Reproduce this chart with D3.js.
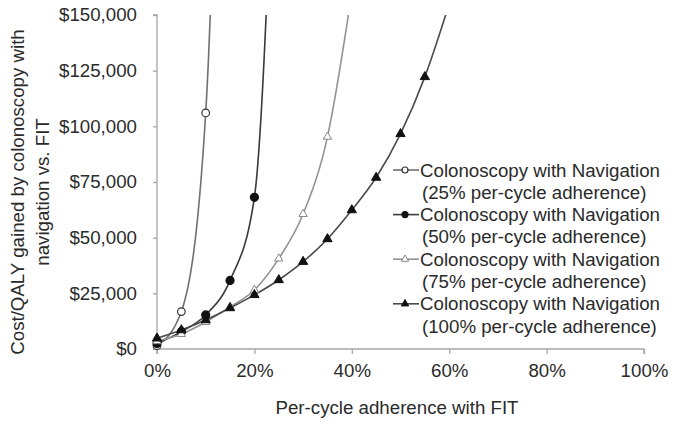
<!DOCTYPE html>
<html>
<head>
<meta charset="utf-8">
<script src="https://cdn.jsdelivr.net/npm/d3@7"></script>
<style>
  html, body { margin: 0; padding: 0; background: #fff; }
  svg { display: block; font-family: "Liberation Sans", Arial, sans-serif; }
</style>
</head>
<body>
<svg id="chart" width="675" height="424"></svg>
<script>
// ---- data ----
const adherence = [0, 0.05, 0.10, 0.15, 0.20, 0.25, 0.30, 0.35, 0.40, 0.45, 0.50, 0.55, 0.60];
const nav25  = [1500, 16800, 106000, 500000];
const nav50  = [2500, 7800, 15300, 30800, 68100, 300000];
const nav75  = [3500, 6700, 12100, 18900, 26500, 40600, 60600, 95300, 160000];
const nav100 = [4800, 8500, 13000, 18400, 24300, 31000, 39200, 49400, 62400, 77000, 96600, 122200, 155000];
const seriesNames = [
  ["Colonoscopy with Navigation", "(25% per-cycle adherence)"],
  ["Colonoscopy with Navigation", "(50% per-cycle adherence)"],
  ["Colonoscopy with Navigation", "(75% per-cycle adherence)"],
  ["Colonoscopy with Navigation", "(100% per-cycle adherence)"]
];
const yTicks = [0, 25000, 50000, 75000, 100000, 125000, 150000];
const xTicks = [0, 0.2, 0.4, 0.6, 0.8, 1.0];
const yTitle = ["Cost/QALY gained by colonoscopy with", "navigation vs. FIT"];
const xTitle = "Per-cycle adherence with FIT";

// ---- styles ----
const styles = [
  { values: nav25,  line: "#707070", marker: "circle",   fill: "#fff", stroke: "#333", size: 3.8 },
  { values: nav50,  line: "#3a3a3a", marker: "circle",   fill: "#111", stroke: "#111", size: 4.0 },
  { values: nav75,  line: "#929292", marker: "triangle", fill: "#fff", stroke: "#888", size: 3.4 },
  { values: nav100, line: "#4a4a4a", marker: "triangle", fill: "#111", stroke: "#111", size: 3.8 }
];

const svg = d3.select("#chart");
const x = d3.scaleLinear().domain([0, 1]).range([157, 644]);
const y = d3.scaleLinear().domain([0, 150000]).range([349, 15]);
const FS = "18.7px";
const textColor = "#2a2a2a";
const axisColor = "#a6a6a6";

// clip
svg.append("defs").append("clipPath").attr("id", "clip")
  .append("rect").attr("x", 0).attr("y", y(150000)).attr("width", 675).attr("height", 424 - y(150000));

// axes
const yAxis = svg.append("g").attr("transform", `translate(${x(0)},0)`)
  .call(d3.axisLeft(y).tickValues(yTicks).tickSize(4).tickPadding(16)
    .tickFormat(d => "$" + d3.format(",")(d)));
const xAxis = svg.append("g").attr("transform", `translate(0,${y(0)})`)
  .call(d3.axisBottom(x).tickValues(xTicks).tickSize(5).tickPadding(10)
    .tickFormat(d3.format(".0%")));
[yAxis, xAxis].forEach(g => {
  g.select(".domain").attr("stroke", axisColor).attr("stroke-width", 1.3);
  g.selectAll(".tick line").attr("stroke", axisColor).attr("stroke-width", 1.3);
  g.selectAll(".tick text").attr("fill", textColor).style("font-size", FS)
    .style("font-family", "'Liberation Sans', Arial, sans-serif");
});
yAxis.select(".domain").attr("d", `M-4,${y(150000)}H0V${y(0)}H-4`);
xAxis.select(".domain").attr("d", `M${x(0)},5V0H${x(1)}V5`);

// axis titles
const yt = svg.append("text").attr("transform", "rotate(-90)")
  .attr("text-anchor", "middle").attr("fill", textColor).style("font-size", FS);
yTitle.forEach((t, i) => {
  yt.append("tspan").attr("x", -192).attr("y", 24 + i * 25).text(t);
});
svg.append("text").attr("x", 397).attr("y", 414).attr("text-anchor", "middle")
  .attr("fill", textColor).style("font-size", FS).text(xTitle);

// lines
const line = d3.line().x((d, i) => x(adherence[i])).y(d => y(d)).curve(d3.curveMonotoneX);
const plot = svg.append("g").attr("clip-path", "url(#clip)");

function drawMarker(g, s, cx, cy, size) {
  if (s.marker === "circle") {
    g.append("circle").attr("cx", cx).attr("cy", cy).attr("r", size)
      .attr("fill", s.fill).attr("stroke", s.stroke).attr("stroke-width", 1.2);
  } else {
    g.append("path").attr("d", d3.symbol().type(d3.symbolTriangle).size(size * size * 2.6)())
      .attr("transform", `translate(${cx},${cy})`)
      .attr("fill", s.fill).attr("stroke", s.stroke).attr("stroke-width", 1);
  }
}

styles.forEach(s => {
  plot.append("path").datum(s.values).attr("d", line)
    .attr("fill", "none").attr("stroke", s.line).attr("stroke-width", 1.6);
});
styles.forEach(s => {
  const g = svg.append("g");
  s.values.forEach((v, i) => {
    if (v <= 150000) drawMarker(g, s, x(adherence[i]), y(v), s.size);
  });
});

// legend
const lg = svg.append("g");
seriesNames.forEach((lines, i) => {
  const s = styles[i];
  const cy = 170 + i * 44.6;
  lg.append("line").attr("x1", 393).attr("x2", 419).attr("y1", cy).attr("y2", cy)
    .attr("stroke", s.line).attr("stroke-width", 1.6);
  drawMarker(lg, s, 405, cy, 3);
  lines.forEach((t, j) => {
    lg.append("text").attr("x", j === 0 ? 420 : 422).attr("y", cy + j * 22.3)
      .attr("dy", "0.35em").attr("fill", textColor).style("font-size", FS).text(t);
  });
});
</script>
</body>
</html>
